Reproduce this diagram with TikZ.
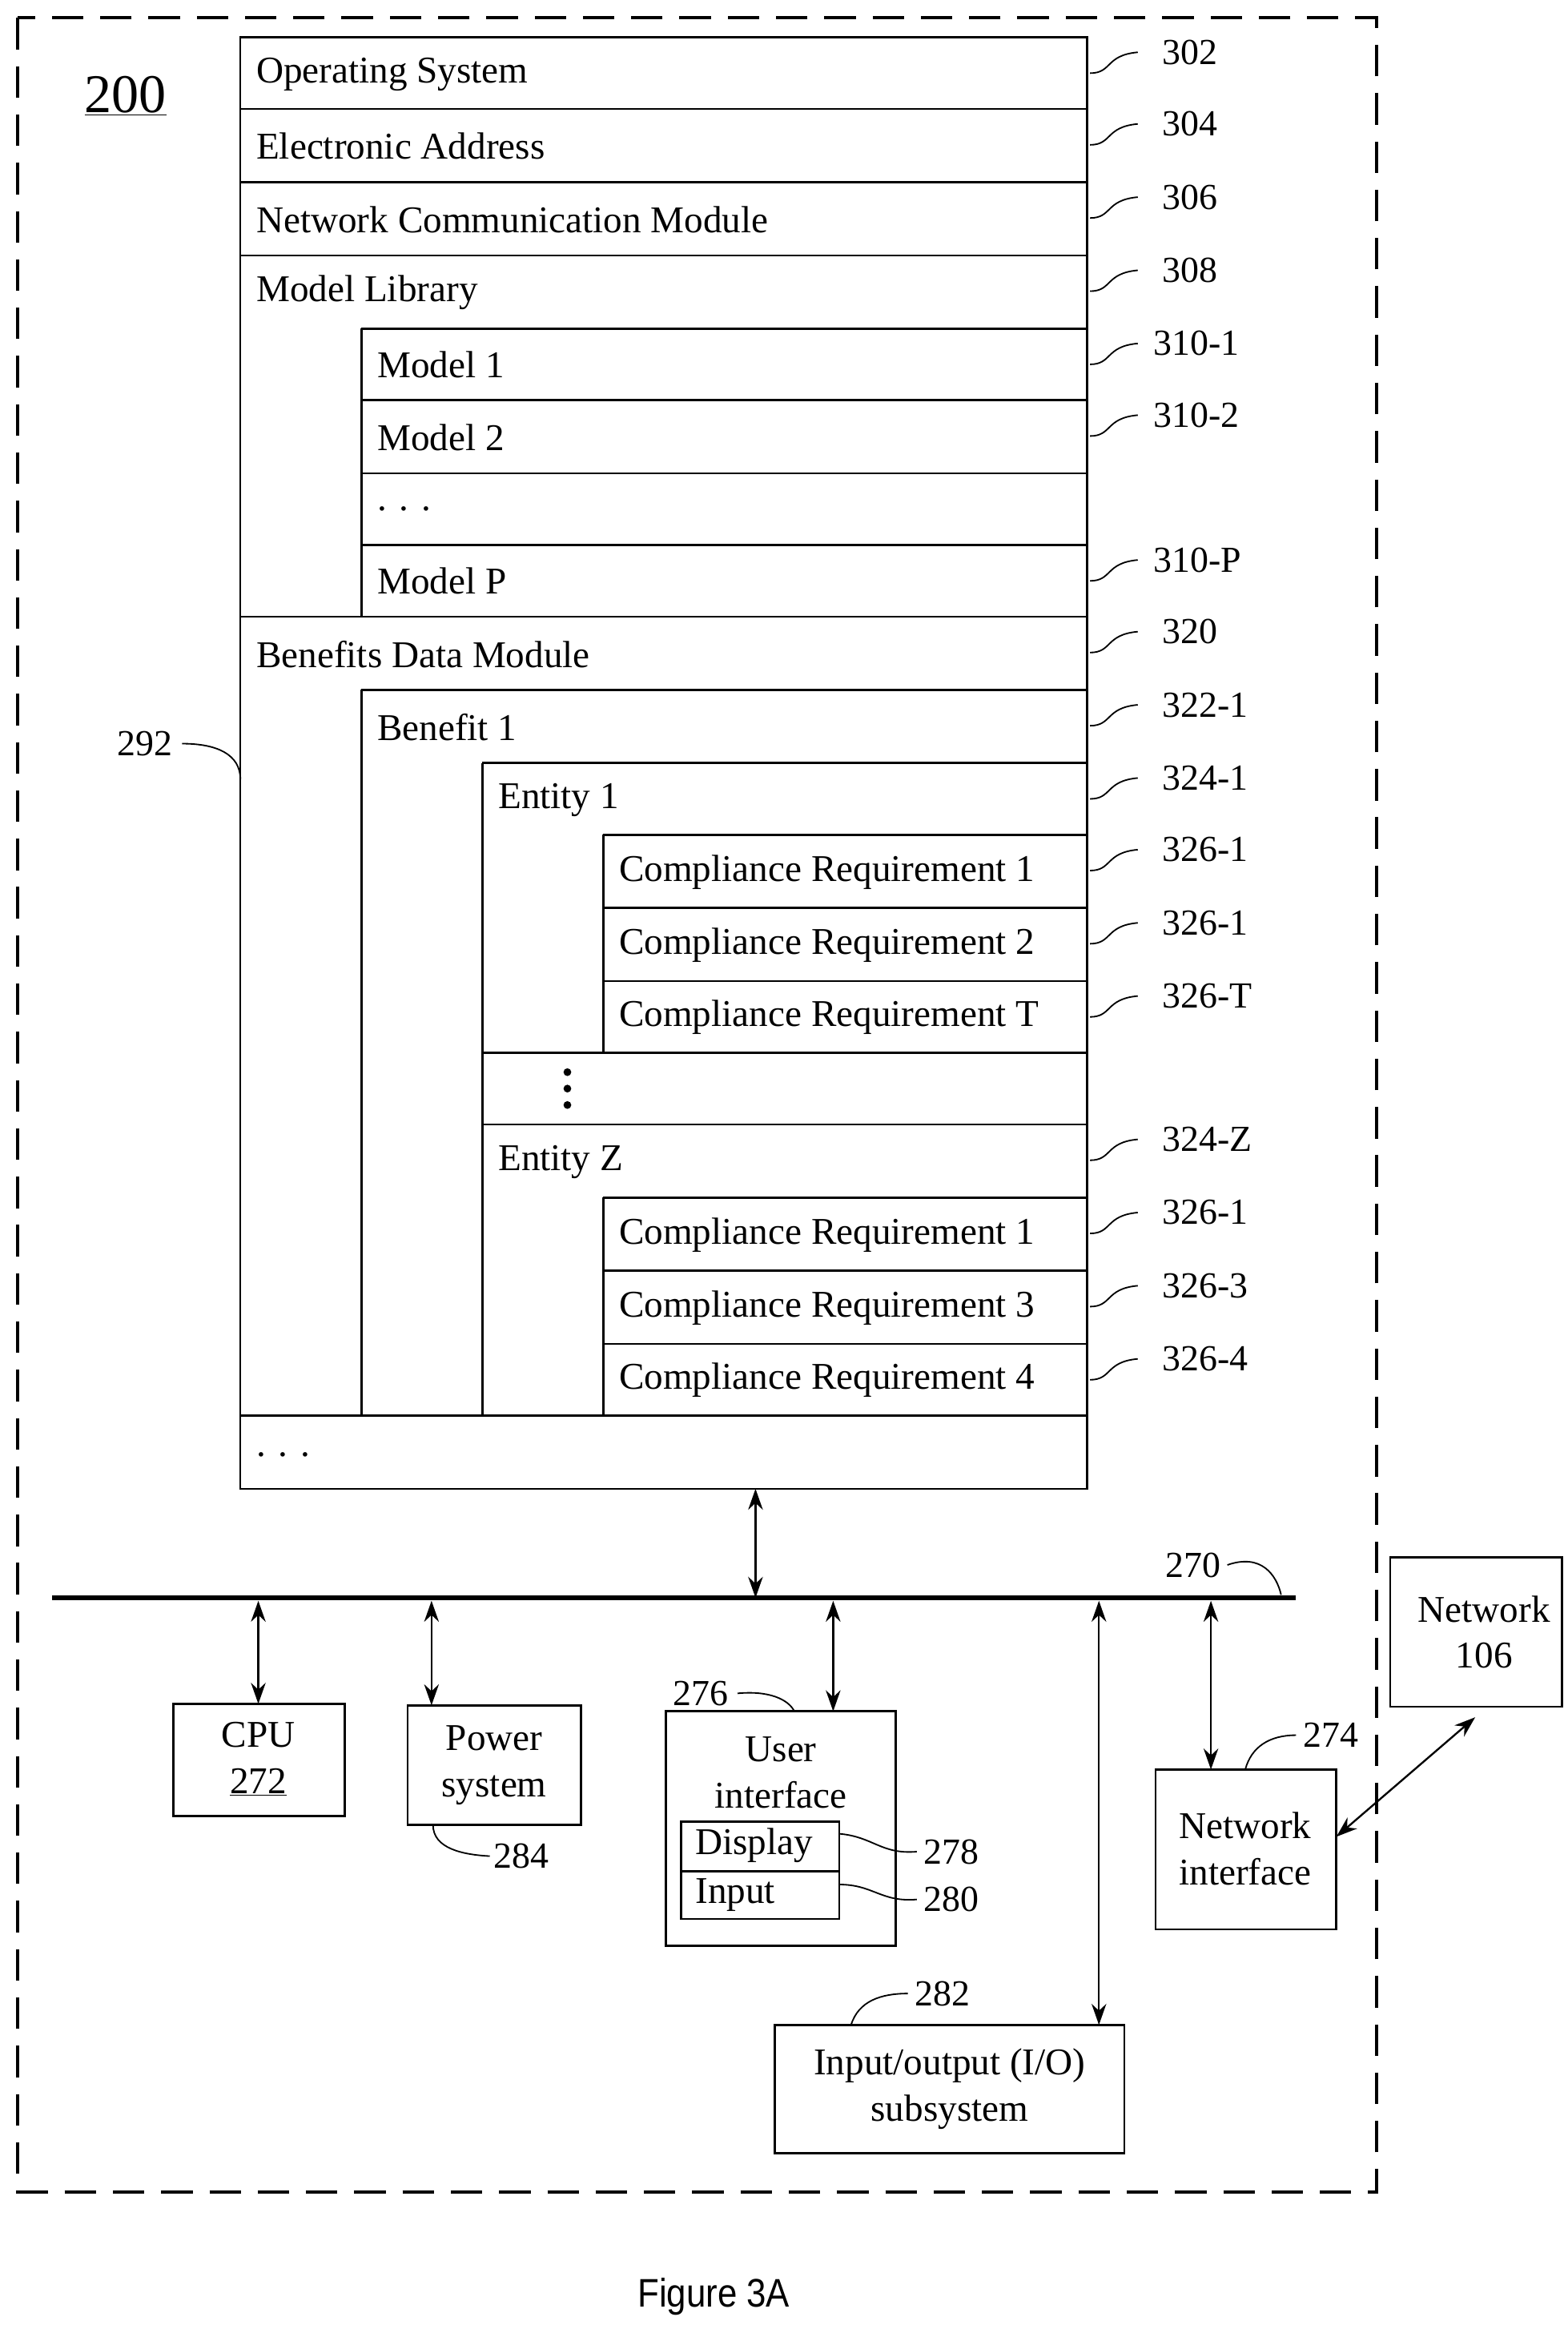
\documentclass[tikz,border=0pt]{standalone}
\usepackage{fontspec}
\setmainfont{Liberation Serif}
\setsansfont{Liberation Sans}
\usetikzlibrary{arrows.meta}
\begin{document}
\begin{tikzpicture}[x=0.05cm,y=-0.05cm,line width=2pt,
  txt/.style={anchor=west,inner sep=0pt,font=\fontsize{36}{42}\selectfont},
  lbl/.style={anchor=west,inner sep=0pt,font=\fontsize{35}{40}\selectfont},
  ctr/.style={align=center,inner sep=0pt,font=\fontsize{36}{42}\selectfont},
  sq/.style={line width=1.4pt},
  dbl/.style={{Stealth[length=20pt,width=14pt]}-{Stealth[length=20pt,width=14pt]},line width=1.8pt}]
\useasboundingbox (0,0) rectangle (1050,1557);
\draw[line width=3pt,dash pattern=on 30pt off 16pt] (12,12) rectangle (922,1468);
\node[inner sep=0pt,font=\fontsize{52}{58}\selectfont] (n200) at (84,64) {\underline{200}};
% memory box
\draw (161,25) rectangle (728,997);
\foreach \y in {73,122,171,413,948} \draw (161,\y)--(728,\y);
\foreach \y in {220,268,317,365,462} \draw (242,\y)--(728,\y);
\foreach \y in {511,705,753} \draw (323,\y)--(728,\y);
\foreach \y in {559,608,657,802,851,900} \draw (404,\y)--(728,\y);
\draw (242,220)--(242,413) (242,462)--(242,948) (323,511)--(323,948) (404,559)--(404,705) (404,802)--(404,948);
\node[txt] (t1) at (171,50) {Operating System};
\node[txt] (t2) at (171,98) {Electronic Address};
\node[txt] (t3) at (171,147) {Network Communication Module};
\node[txt] (t4) at (171,196) {Model Library};
\node[txt] (t5) at (252,244) {Model 1};
\node[txt] (t6) at (252,293) {Model 2};
\node[txt] (t7) at (252,341) {. . .};
\node[txt] (t8) at (252,389) {Model P};
\node[txt] (t9) at (171,438) {Benefits Data Module};
\node[txt] (t10) at (252,487) {Benefit 1};
\node[txt] (t11) at (333,536) {Entity 1};
\node[txt] (t12) at (414,584) {Compliance Requirement 1};
\node[txt] (t13) at (414,633) {Compliance Requirement 2};
\node[txt] (t14) at (414,681) {Compliance Requirement T};
\foreach \yy in {718,729,740} \fill (380,\yy) circle (2.6);
\coordinate (t15) at (380,729);
\node[txt] (t16) at (333,778) {Entity Z};
\node[txt] (t17) at (414,827) {Compliance Requirement 1};
\node[txt] (t18) at (414,876) {Compliance Requirement 3};
\node[txt] (t19) at (414,924) {Compliance Requirement 4};
\node[txt] (t20) at (171,974) {. . .};
% ref labels
\foreach \y/\l/\dx in {25/302/0,73/304/0,122/306/0,171/308/0,220/310-1/-6,268/310-2/-6,365/310-P/-6,413/320/0,462/322-1/0,511/324-1/0,559/326-1/0,608/326-1/0,657/326-T/0,753/324-Z/0,802/326-1/0,851/326-3/0,900/326-4/0}{
  \node[lbl] (r\l\y) at (778+\dx,\y+10) {\l};
  \draw[sq] (730,\y+24) .. controls (745,\y+24) and (740,\y+12) .. (762,\y+10);
}
\node[lbl] (r292) at (78,498) {292};
\draw[sq] (122,498) .. controls (145,498) and (161,505) .. (161,522);
% bus
\coordinate (busL) at (35,1070); \coordinate (busR) at (868,1070);
\draw[line width=5pt] (busL)--(busR);
\node[lbl] (r270) at (780,1048) {270};
\draw[sq] (822,1048) .. controls (845,1040) and (855,1055) .. (858,1068);
\coordinate (memB) at (506,997); \coordinate (memBus) at (506,1070);
\draw[dbl] (memB)--(memBus);
% CPU
\draw (116,1141) rectangle (231,1216);
\node[ctr] (cpu) at (173,1178) {CPU\\[2pt]\underline{272}};
\draw[dbl] (173,1072)--(173,1141);
% Power
\draw (273,1142) rectangle (389,1222);
\node[ctr] (pow) at (331,1182) {Power\\[2pt]system};
\draw[dbl] (289,1072)--(289,1142);
\node[lbl] (r284) at (330,1243) {284};
\draw[sq] (290,1222) .. controls (290,1238) and (310,1242) .. (328,1243);
% User interface
\draw (446,1146) rectangle (600,1303);
\node[ctr] (ui) at (523,1187) {User\\[2pt]interface};
\draw (456,1220) rectangle (562,1253) (456,1253) rectangle (562,1285);
\node[txt] (disp) at (465,1236) {Display};
\node[txt] (inp) at (465,1269) {Input};
\draw[dbl] (558,1072)--(558,1146);
\node[lbl] (r276) at (450,1134) {276};
\draw[sq] (494,1134) .. controls (515,1132) and (528,1138) .. (532,1146);
\node[lbl] (r278) at (618,1240) {278};
\draw[sq] (562,1228) .. controls (585,1230) and (590,1242) .. (614,1240);
\node[lbl] (r280) at (618,1272) {280};
\draw[sq] (562,1262) .. controls (585,1262) and (590,1274) .. (614,1272);
% IO
\draw (519,1356) rectangle (753,1442);
\node[ctr] (io) at (636,1399) {Input/output (I/O)\\[2pt]subsystem};
\draw[dbl] (736,1072)--(736,1356);
\node[lbl] (r282) at (612,1335) {282};
\draw[sq] (570,1356) .. controls (575,1340) and (590,1335) .. (608,1335);
% network interface
\draw (774,1185) rectangle (895,1292);
\node[ctr] (ni) at (834,1238) {Network\\[2pt]interface};
\draw[dbl] (811,1072)--(811,1185);
\node[lbl] (r274) at (872,1162) {274};
\draw[sq] (834,1185) .. controls (838,1170) and (850,1162) .. (868,1162);
% network 106
\draw (931,1043) rectangle (1046,1143);
\node[ctr] (net) at (994,1093) {Network\\[2pt]106};
\draw[dbl] (895,1230)--(988,1150);
\node[inner sep=0pt,font=\sffamily\fontsize{38}{44}\selectfont] (fig) at (478,1538) {\scalebox{0.88}[1]{Figure 3A}};
\end{tikzpicture}
\end{document}
